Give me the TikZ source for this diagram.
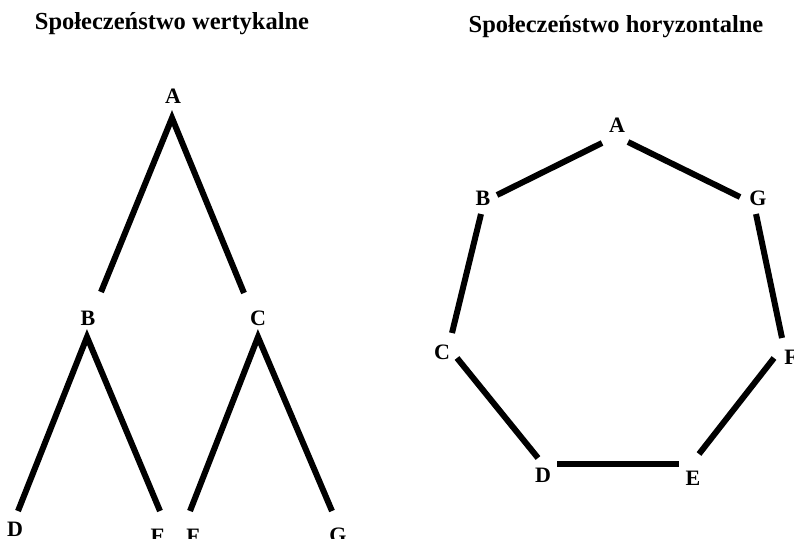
\documentclass[tikz,border=0pt]{standalone}
\usepackage{fontspec}
\setmainfont{Liberation Serif}
\usetikzlibrary{calc}
\begin{document}
\begin{tikzpicture}[x=1pt,y=-1pt,
  lbl/.style={font=\bfseries\fontsize{22}{22}\selectfont,inner sep=0pt},
  ttl/.style={font=\bfseries\fontsize{24.5}{24.5}\selectfont,inner sep=0pt,anchor=base},
  edge/.style={line width=6pt,black}]
\useasboundingbox (0,0) rectangle (794,538);
% titles
\node[ttl] (t1) at (172,29) {Społeczeństwo wertykalne};
\node[ttl] (t2) at (616,32) {Społeczeństwo horyzontalne};
% vertical tree
\node[lbl] (vA) at (173,96) {A};
\node[lbl] (vB) at (88,318) {B};
\node[lbl] (vC) at (258,318) {C};
\node[lbl] (vD) at (15,529) {D};
\node[lbl] (vE) at (158,536) {E};
\node[lbl] (vF) at (193,536) {F};
\node[lbl] (vG) at (338,535) {G};
\draw[edge] ($(vB)+(13,-26)$) -- ($(vA)+(-1,22)$) -- ($(vC)+(-14,-25)$);
\draw[edge] ($(vD)+(3,-18)$) -- ($(vB)+(-1,19)$) -- ($(vE)+(2,-25)$);
\draw[edge] ($(vF)+(-3,-25)$) -- ($(vC)+(0,19)$) -- ($(vG)+(-6,-24)$);
% horizontal ring
\node[lbl] (hA) at (617,125) {A};
\node[lbl] (hB) at (483,198) {B};
\node[lbl] (hG) at (758,198) {G};
\node[lbl] (hC) at (442,352) {C};
\node[lbl] (hF) at (791,357) {F};
\node[lbl] (hD) at (543,475) {D};
\node[lbl] (hE) at (693,478) {E};
\draw[edge] ($(hA)+(-15,18)$) -- ($(hB)+(14,-3)$);
\draw[edge] ($(hA)+(11,17)$) -- ($(hG)+(-18,-1)$);
\draw[edge] ($(hB)+(-2,16)$) -- ($(hC)+(10,-19)$);
\draw[edge] ($(hG)+(-2,16)$) -- ($(hF)+(-9,-19)$);
\draw[edge] ($(hC)+(15,6)$) -- ($(hD)+(-5,-17)$);
\draw[edge] ($(hD)+(14,-11)$) -- ($(hE)+(-14,-14)$);
\draw[edge] ($(hE)+(6,-24)$) -- ($(hF)+(-17,1)$);
\end{tikzpicture}
\end{document}
